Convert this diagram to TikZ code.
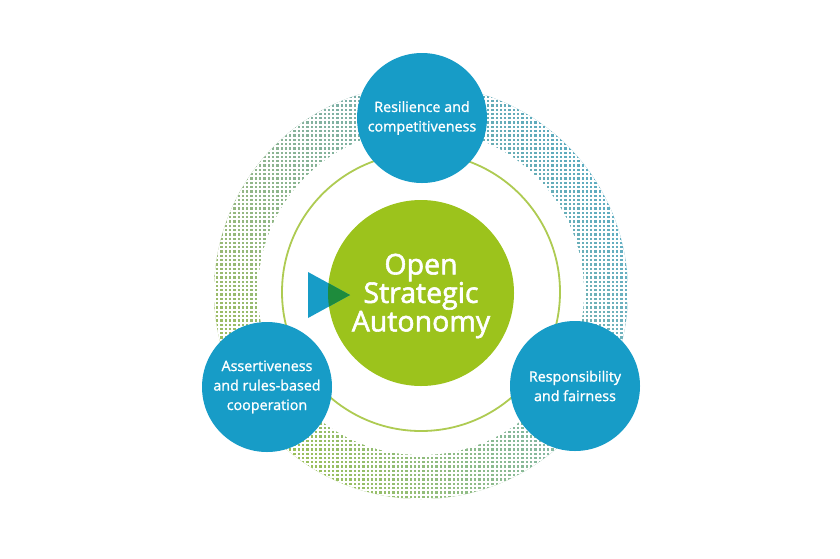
\documentclass[tikz,border=0pt]{standalone}
\usepackage{fontspec}
\setmainfont{Open Sans}[FakeBold=1.2]
\newfontfamily\heavyfont{Open Sans}[FakeBold=2]
\usetikzlibrary{shadings}
\definecolor{eublue}{HTML}{179CC7}
\definecolor{eugreen}{HTML}{9CC31C}
\definecolor{ringgreen}{HTML}{AECB52}
\definecolor{darkgreen}{HTML}{1E8B3C}
\definecolor{dotblue}{HTML}{4AA7CB}
\definecolor{dotgreen}{HTML}{A2C339}
\definecolor{dotgrayg}{HTML}{93B39A}
\definecolor{dotgrayb}{HTML}{86B8B4}
\tikzset{
  bluecirc/.style={circle, fill=eublue, minimum size=130pt, inner sep=0pt, text=white, align=center, font=\fontsize{14.3}{19.5}\selectfont},
  maincirc/.style={circle, fill=eugreen, minimum size=186pt, inner sep=0pt},
  maintext/.style={text=white, align=center, font=\heavyfont\fontsize{28.5}{28.5}\selectfont}
}
\begin{document}
\begin{tikzpicture}[x=1pt,y=-1pt]
\useasboundingbox[fill=white] (0,0) rectangle (840,558);
\coordinate (c) at (421,292);
% dotted halftone ring
\begin{scope}
  \clip (c) circle (207pt);
  \shade[upper right=dotblue, lower left=dotgreen, upper left=dotgrayg, lower right=dotgrayb] (214,85) rectangle (628,499);
  \draw[white, line width=2.0pt] (200,70) grid[step=4.3pt] (640,510);
\end{scope}
\fill[white] (c) circle (163pt);
% thin ring
\draw[ringgreen, line width=1.8pt] (c) circle (139pt);
% center circle
\node[maincirc] (osa) at (421,293) {};
% triangle
\coordinate (t1) at (308,272);
\coordinate (t2) at (308,318);
\coordinate (t3) at (350,295);
\fill[eublue] (t1) -- (t2) -- (t3) -- cycle;
\begin{scope}
  \clip (osa.center) circle (93pt);
  \fill[darkgreen] (t1) -- (t2) -- (t3) -- cycle;
\end{scope}
\node[maintext] (osatext) at (421,296) {Open\\Strategic\\Autonomy};
% blue circles
\node[bluecirc] (res) at (422,118) {Resilience and\\competitiveness};
\node[bluecirc] (ass) at (267,387) {Assertiveness\\and rules-based\\cooperation};
\node[bluecirc] (resp) at (575,386) {Responsibility\\and fairness};
\end{tikzpicture}
\end{document}
